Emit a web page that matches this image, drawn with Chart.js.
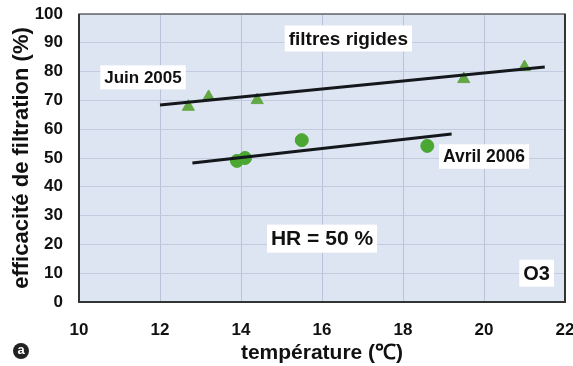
<!DOCTYPE html>
<html>
<head>
<meta charset="utf-8">
<script src="https://cdn.jsdelivr.net/npm/chart.js@4/dist/chart.umd.min.js"></script>
<style>
  html, body { margin: 0; padding: 0; background: #fff; }
  #wrap { width: 573px; height: 366px; }
</style>
</head>
<body>
<div id="wrap"><canvas id="c" width="573" height="366"></canvas></div>
<script>
// Juin 2005 (triangles)
const juinTemp = [12.7, 13.2, 14.4, 19.5, 21.0];
const juinEff = [67.8, 71.2, 70.1, 77.4, 81.6];
// Avril 2006 (cercles)
const avrilTemp = [13.9, 14.1, 15.5, 18.6];
const avrilEff = [49.0, 50.0, 56.2, 54.2];
// droites de tendance
const juinFitTemp = [12.0, 21.5];
const juinFitEff = [68.4, 81.6];
const avrilFitTemp = [12.8, 19.2];
const avrilFitEff = [48.3, 58.3];

const xTicks = [10, 12, 14, 16, 18, 20, 22];
const yTicks = [0, 10, 20, 30, 40, 50, 60, 70, 80, 90, 100];

// textes dans le graphique : [texte, x, y, taille]
const notes = [
  ['filtres rigides', 16.65, 91.5, 19],
  ['Juin 2005', 11.58, 78.0, 17],
  ['Avril 2006', 20.0, 50.5, 17.5],
  ['HR = 50 %', 16.0, 22.0, 21],
  ['O3', 21.3, 10.0, 20]
];

const pts = (xs, ys) => xs.map((x, i) => ({ x: x, y: ys[i] }));
const FONT = '"Liberation Sans", Arial, sans-serif';

const frame = {
  id: 'frame',
  beforeDraw(chart) {
    const { ctx, chartArea: a } = chart;
    ctx.save();
    ctx.fillStyle = '#dde4f2';
    ctx.fillRect(a.left, a.top, a.right - a.left, a.bottom - a.top);
    ctx.restore();
  },
  afterDatasetsDraw(chart) {
    const { ctx, chartArea: a, scales } = chart;
    ctx.save();
    ctx.strokeStyle = '#666';
    ctx.lineWidth = 1.5;
    ctx.strokeRect(a.left, a.top, a.right - a.left, a.bottom - a.top);
    ctx.strokeStyle = '#333';
    ctx.lineWidth = 2;
    ctx.beginPath();
    ctx.moveTo(a.left, a.top);
    ctx.lineTo(a.left, a.bottom);
    ctx.lineTo(a.right, a.bottom);
    ctx.lineTo(a.right, a.top);
    ctx.stroke();
    ctx.textAlign = 'center';
    ctx.textBaseline = 'middle';
    notes.forEach(n => {
      ctx.font = 'bold ' + n[3] + 'px ' + FONT;
      const px = scales.x.getPixelForValue(n[1]);
      const py = scales.y.getPixelForValue(n[2]);
      const w = ctx.measureText(n[0]).width + 8;
      const h = n[3] + 7;
      ctx.fillStyle = '#fff';
      ctx.fillRect(px - w / 2, py - h / 2, w, h);
      ctx.fillStyle = '#111';
      ctx.fillText(n[0], px, py + 1);
    });
    // repère (a)
    ctx.beginPath();
    ctx.arc(21, 351, 8, 0, Math.PI * 2);
    ctx.fillStyle = '#222';
    ctx.fill();
    ctx.fillStyle = '#fff';
    ctx.font = 'bold 13px ' + FONT;
    ctx.fillText('a', 21, 350);
    ctx.restore();
  }
};

new Chart(document.getElementById('c'), {
  type: 'scatter',
  data: {
    datasets: [
      {
        label: 'Juin 2005 tendance',
        type: 'line',
        data: pts(juinFitTemp, juinFitEff),
        borderColor: '#14181c',
        borderWidth: 3,
        pointRadius: 0,
        fill: false
      },
      {
        label: 'Avril 2006 tendance',
        type: 'line',
        data: pts(avrilFitTemp, avrilFitEff),
        borderColor: '#14181c',
        borderWidth: 3,
        pointRadius: 0,
        fill: false
      },
      {
        label: 'Juin 2005',
        data: pts(juinTemp, juinEff),
        pointStyle: 'triangle',
        pointRadius: 7,
        backgroundColor: '#63a844',
        borderColor: '#63a844'
      },
      {
        label: 'Avril 2006',
        data: pts(avrilTemp, avrilEff),
        pointStyle: 'circle',
        pointRadius: 6.5,
        backgroundColor: '#4aa832',
        borderColor: '#4aa832'
      }
    ]
  },
  options: {
    responsive: false,
    animation: false,
    layout: { padding: { top: 14, right: 8, bottom: 0, left: 0 } },
    plugins: {
      legend: { display: false },
      tooltip: { enabled: false }
    },
    scales: {
      x: {
        type: 'linear',
        min: 10,
        max: 22,
        afterBuildTicks: s => { s.ticks = xTicks.map(v => ({ value: v })); },
        afterFit: s => { s.height = 64; s.paddingLeft = 0; s.paddingRight = 0; },
        grid: { color: '#b9c2d6', drawTicks: false },
        border: { display: false },
        ticks: {
          padding: 18,
          color: '#111',
          font: { family: FONT, size: 17, weight: 'bold' }
        },
        title: {
          display: true,
          text: 'température (℃)',
          color: '#111',
          padding: { top: -4, bottom: 0 },
          font: { family: FONT, size: 21, weight: 'bold' }
        }
      },
      y: {
        min: 0,
        max: 100,
        afterBuildTicks: s => { s.ticks = yTicks.map(v => ({ value: v })); },
        afterFit: s => { s.width = 79; s.paddingTop = 0; s.paddingBottom = 0; },
        grid: { color: '#c3cbde', drawTicks: false },
        border: { display: false },
        ticks: {
          padding: 16,
          color: '#111',
          font: { family: FONT, size: 17, weight: 'bold' }
        },
        title: {
          display: true,
          text: 'efficacité de filtration (%)',
          color: '#111',
          padding: { top: 9, bottom: 0 },
          font: { family: FONT, size: 22, weight: 'bold' }
        }
      }
    }
  },
  plugins: [frame]
});
</script>
</body>
</html>
